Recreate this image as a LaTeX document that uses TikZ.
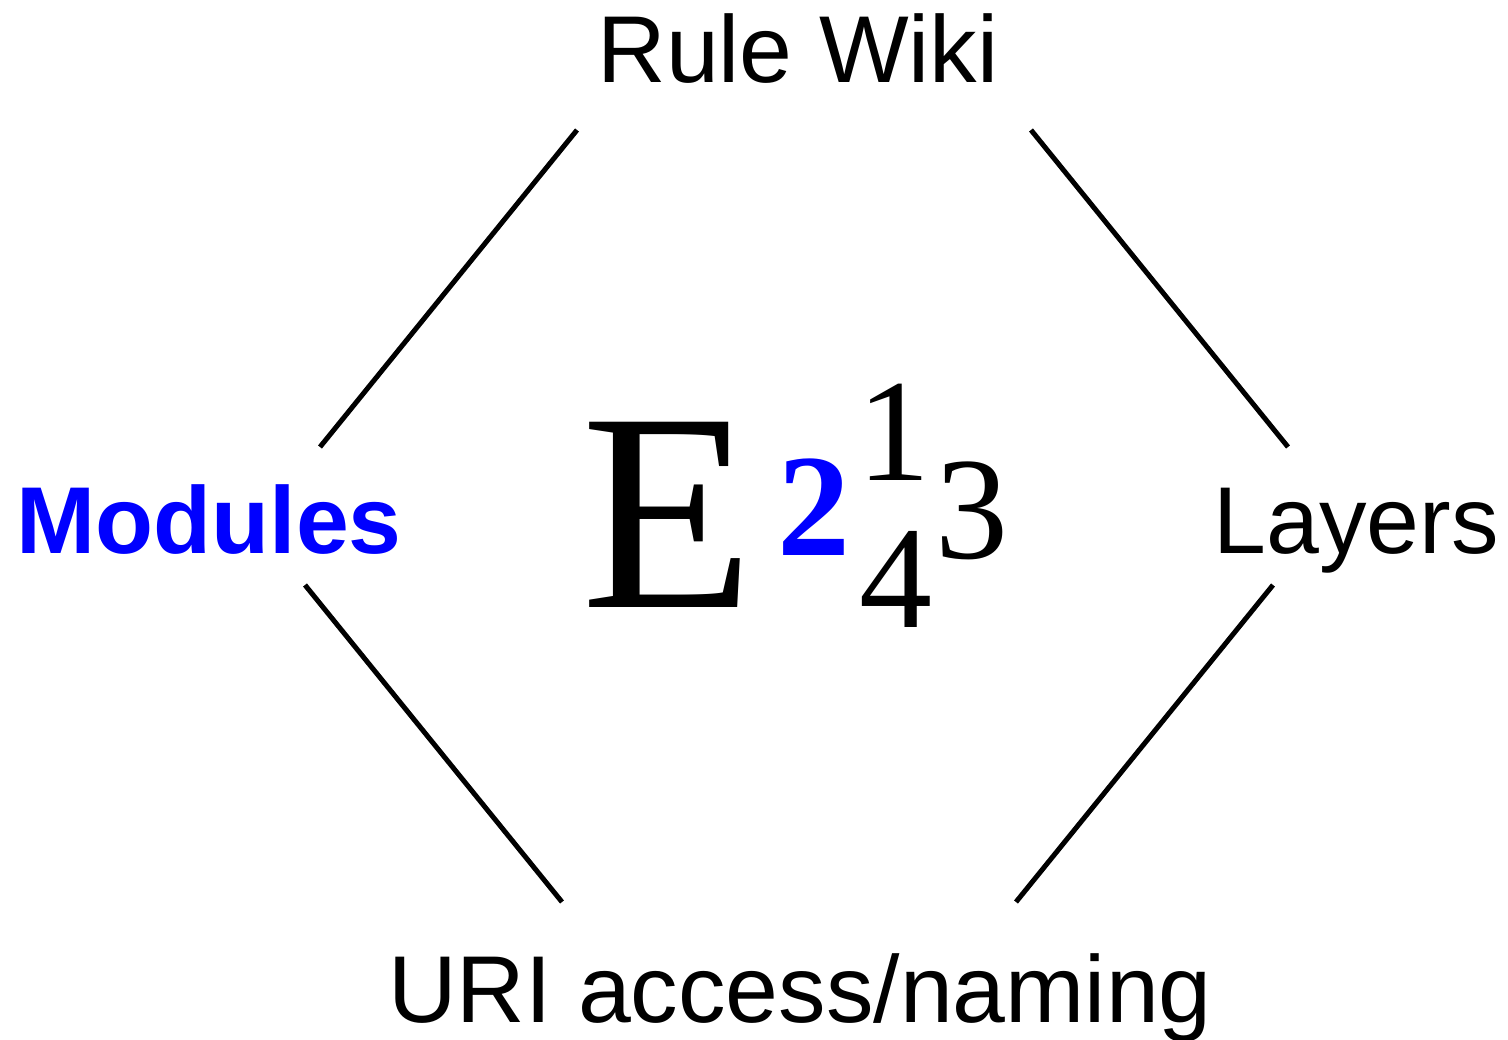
\documentclass[tikz,border=0pt]{standalone}
\usepackage{fontspec}
\setmainfont{Liberation Serif}
\newfontfamily\lsans{Liberation Sans}
\definecolor{modblue}{RGB}{0,0,255}
\tikzset{
  lbl/.style={inner sep=0pt, anchor=base, font=\lsans\fontsize{95}{100}\selectfont},
  big/.style={inner sep=0pt, anchor=base, font=\fontsize{283}{290}\selectfont},
  idx/.style={inner sep=0pt, anchor=base, font=\fontsize{146}{150}\selectfont},
  edge/.style={line width=5pt}
}
\begin{document}
\begin{tikzpicture}[x=1pt,y=-1pt]
\useasboundingbox (0,0) rectangle (1508,1040);
\node[lbl] (rw) at (798,83) {Rule Wiki};
\node[lbl, text=modblue, font=\lsans\bfseries\fontsize{95}{100}\selectfont] (mod) at (209,553) {Modules};
\node[lbl] (lay) at (1356,553) {Layers};
\node[lbl] (uri) at (800,1022) {URI access/naming};
\node[big] (E) at (668,607) {E};
\node[idx, text=modblue, font=\bfseries\fontsize{146}{150}\selectfont] (two) at (814,555) {2};
\node[idx] (one) at (894,480) {1};
\node[idx] (four) at (896,627) {4};
\node[idx] (three) at (972,558) {3};
\coordinate (a1) at (577,130); \coordinate (a2) at (320,447);
\coordinate (b1) at (1031,130); \coordinate (b2) at (1288,447);
\coordinate (c1) at (305,585); \coordinate (c2) at (562,902);
\coordinate (d1) at (1273,585); \coordinate (d2) at (1016,902);
\draw[edge] (a1) -- (a2);
\draw[edge] (b1) -- (b2);
\draw[edge] (c1) -- (c2);
\draw[edge] (d1) -- (d2);
\end{tikzpicture}
\end{document}
